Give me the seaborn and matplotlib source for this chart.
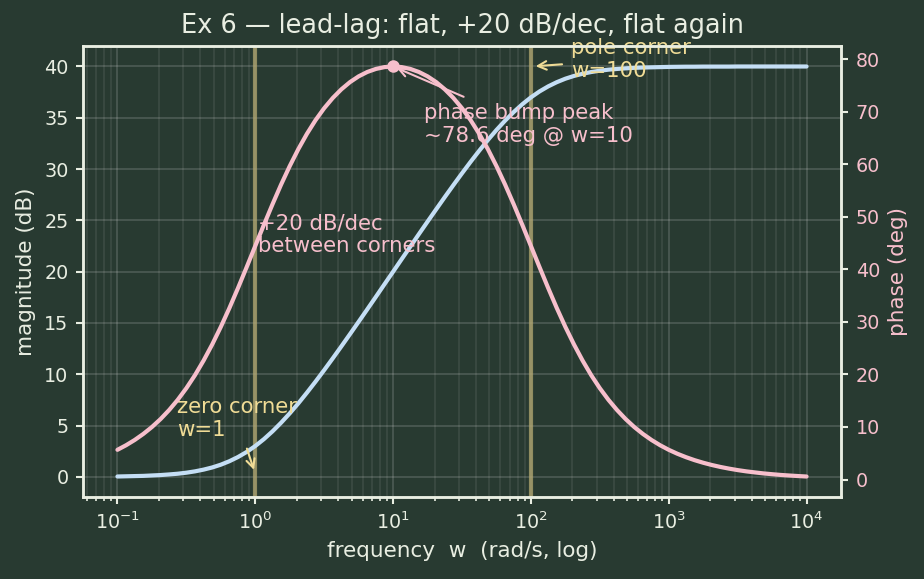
import numpy as np
import pandas as pd
import matplotlib
matplotlib.use("Agg")
import matplotlib.pyplot as plt
import seaborn as sns

# frequency samples (rad/s), sixteenth-decade steps from 0.1 to 1e4
freq = [0.1, 0.1155, 0.1334, 0.1540, 0.1778, 0.2054, 0.2371, 0.2738,
        0.3162, 0.3652, 0.4217, 0.4870, 0.5623, 0.6494, 0.7499, 0.8660,
        1.0, 1.155, 1.334, 1.540, 1.778, 2.054, 2.371, 2.738,
        3.162, 3.652, 4.217, 4.870, 5.623, 6.494, 7.499, 8.660,
        10.0, 11.55, 13.34, 15.40, 17.78, 20.54, 23.71, 27.38,
        31.62, 36.52, 42.17, 48.70, 56.23, 64.94, 74.99, 86.60,
        100.0, 115.5, 133.4, 154.0, 177.8, 205.4, 237.1, 273.8,
        316.2, 365.2, 421.7, 487.0, 562.3, 649.4, 749.9, 866.0,
        1000.0, 1155.0, 1334.0, 1540.0, 1778.0, 2054.0, 2371.0, 2738.0,
        3162.0, 3652.0, 4217.0, 4870.0, 5623.0, 6494.0, 7499.0, 8660.0, 10000.0]
# magnitude (dB)
mag_db = [0.04, 0.06, 0.08, 0.10, 0.14, 0.18, 0.24, 0.31,
          0.41, 0.54, 0.71, 0.92, 1.19, 1.53, 1.94, 2.43,
          3.01, 3.68, 4.44, 5.28, 6.19, 7.17, 8.21, 9.29,
          10.41, 11.56, 12.73, 13.92, 15.12, 16.33, 17.55, 18.78,
          20.00, 21.23, 22.45, 23.67, 24.88, 26.08, 27.27, 28.44,
          29.59, 30.71, 31.79, 32.83, 33.81, 34.72, 35.56, 36.32,
          36.99, 37.57, 38.06, 38.47, 38.81, 39.08, 39.29, 39.46,
          39.59, 39.69, 39.76, 39.82, 39.87, 39.90, 39.92, 39.94,
          39.96, 39.97, 39.98, 39.98, 39.99, 39.99, 39.99, 39.99,
          40.00, 40.00, 40.00, 40.00, 40.00, 40.00, 40.00, 40.00, 40.00]
# phase (deg)
phase_deg = [5.65, 6.52, 7.52, 8.67, 9.98, 11.49, 13.21, 15.16,
             17.37, 19.85, 22.63, 25.69, 29.03, 32.63, 36.44, 40.40,
             44.43, 48.45, 52.37, 56.12, 59.62, 62.86, 65.77, 68.37,
             70.64, 72.59, 74.24, 75.61, 76.70, 77.53, 78.11, 78.46,
             78.58, 78.46, 78.11, 77.53, 76.70, 75.61, 74.24, 72.59,
             70.64, 68.37, 65.77, 62.86, 59.63, 56.12, 52.37, 48.45,
             44.43, 40.40, 36.44, 32.63, 29.04, 25.69, 22.63, 19.85,
             17.37, 15.16, 13.21, 11.49, 9.98, 8.67, 7.52, 6.52,
             5.65, 4.90, 4.25, 3.68, 3.19, 2.76, 2.39, 2.07,
             1.79, 1.55, 1.35, 1.16, 1.01, 0.87, 0.76, 0.66, 0.57]

corner_w = [1, 100]
peak_w, peak_phase = 10, 78.58

df = pd.DataFrame({"w": freq, "mag": mag_db, "phase": phase_deg})

BG = "#283a31"
FG = "#e9eee2"
BLUE = "#c4def5"
PINK = "#f7bfcc"
YEL = "#f0dc96"
VLINE = "#b3a870"

sns.set_theme(style="dark")
plt.rcParams["font.family"] = ["DejaVu Sans"]

fig = plt.figure(figsize=(6.16, 3.86), dpi=150, facecolor=BG)
ax = fig.add_axes([0.0898, 0.1416, 0.8204, 0.779])
ax.set_facecolor(BG)
ax.set_xscale("log")

for wc in corner_w:
    ax.axvline(wc, color=VLINE, lw=2.0, alpha=0.75, zorder=1.5)

sns.lineplot(data=df, x="w", y="mag", ax=ax, color=BLUE, lw=2.0, zorder=3)

ax2 = ax.twinx()
sns.lineplot(data=df, x="w", y="phase", ax=ax2, color=PINK, lw=2.0, zorder=3)
ax2.plot([peak_w], [peak_phase], "o", color=PINK, ms=5, zorder=4)

ax.set_ylim(-1.96, 42.0)
ax2.set_ylim(-3.33, 82.48)

ax.grid(True, which="major", axis="both", color="white", alpha=0.17, lw=0.8)
ax.grid(True, which="minor", axis="x", color="white", alpha=0.09, lw=0.8)
ax2.grid(False)

for a in (ax, ax2):
    for sp in a.spines.values():
        sp.set_color(FG)
        sp.set_linewidth(1.2)

ax.tick_params(axis="x", which="major", colors=FG, labelsize=9.2, length=3.5, width=1, direction="out", bottom=True)
ax.tick_params(axis="x", which="minor", colors=FG, length=2, width=0.8, bottom=True)
ax.tick_params(axis="y", colors=FG, labelsize=9.2, length=3.5, width=1, left=True)
ax2.tick_params(axis="y", colors=FG, labelcolor=PINK, labelsize=9.2, length=3.5, width=1, right=True)

LBL = 10.3
ax.set_xlabel("frequency  w  (rad/s, log)", color=FG, fontsize=LBL)
ax.set_ylabel("magnitude (dB)", color=FG, fontsize=LBL)
ax2.set_ylabel("phase (deg)", color=PINK, fontsize=LBL)
ax.set_title("Ex 6 \u2014 lead-lag: flat, +20 dB/dec, flat again", color=FG, fontsize=12.3)

ANN = 10.2
ax.annotate("zero corner\nw=1", xy=(1, 0.3), xytext=(0.27, 3.6),
            color=YEL, fontsize=ANN, ha="left", va="bottom",
            arrowprops=dict(arrowstyle="->", color=YEL, lw=1.0), zorder=5)
ax.annotate("pole corner\nw=100", xy=(101, 40.0), xytext=(195, 40.7),
            color=YEL, fontsize=ANN, ha="left", va="center",
            arrowprops=dict(arrowstyle="->", color=YEL, lw=1.0), zorder=5)
ax.text(1.05, 23.6, "+20 dB/dec\nbetween corners", color=PINK, fontsize=ANN,
        ha="left", va="center", zorder=5)
ax2.annotate("phase bump peak\n~78.6 deg @ w=10", xy=(peak_w, peak_phase), xytext=(16.8, 67.5),
             color=PINK, fontsize=ANN, ha="left", va="center",
             arrowprops=dict(arrowstyle="->", color=PINK, lw=1.0), zorder=5)

fig.savefig("out.png", dpi=150, facecolor=BG)
